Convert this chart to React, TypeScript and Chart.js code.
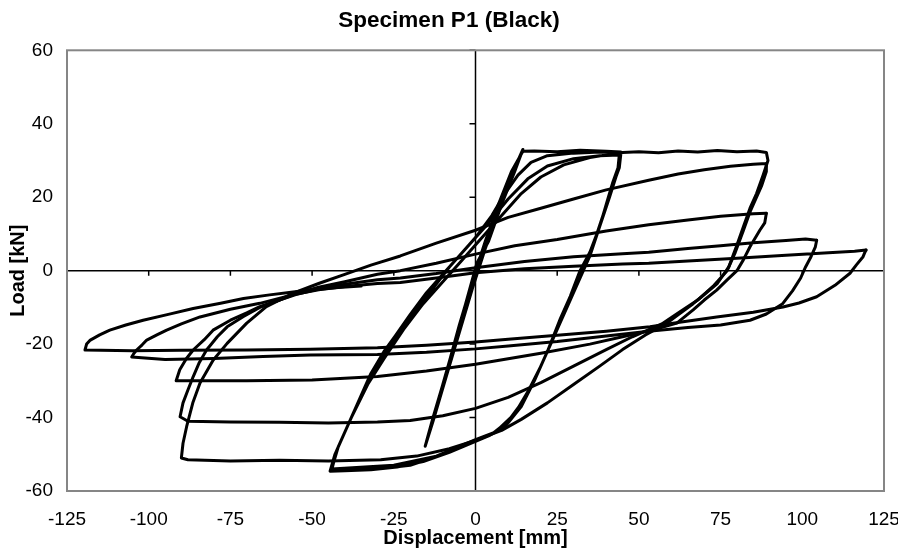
import React, { useEffect, useRef } from "react";
import { Chart, registerables } from "chart.js";

Chart.register(...registerables);

// ---- axis settings ----
const X_MIN = -125;
const X_MAX = 125;
const X_STEP = 25;
const Y_MIN = -60;
const Y_MAX = 60;
const Y_STEP = 20;

const TITLE = "Specimen P1 (Black)";
const X_TITLE = "Displacement [mm]";
const Y_TITLE = "Load [kN]";

// ---- hysteresis path, [displacement mm, load kN] ----
const elasticCycles: [number, number][] = [
  [0, 0], [4, 10], [8, 20], [12, 27], [14.5, 33],
  [12, 27], [8, 18], [4, 8], [0.4, 2], [-4.7, -14.4], [-10, -31], [-15.4, -47.8],
  [-13, -41], [-9, -29], [-5, -16], [-1, -4], [3, 7], [7, 17], [11, 26], [14.5, 33],
  [11, 25], [7, 16], [3, 6], [-1, -5], [-5, -17], [-10, -32], [-15, -46.5],
  [-13, -40], [-9, -28], [-5, -15], [-1, -3], [3, 8], [7, 18], [11, 27], [14.5, 32.5],
];

const cycles45: [number, number][] = [
  [14.5, 32.5], [18, 32.6], [25, 32.4], [32, 32.8], [40, 32.5], [44.5, 32.3],
  [44, 29], [42, 24], [40, 18], [38, 12], [35, 5], [32, 0], [29, -7], [26, -13],
  [22, -22], [18, -30], [14, -37], [9, -42.5], [4, -45], [0, -46.5], [-8, -49.5],
  [-16, -52], [-24, -53.5], [-32, -54.2], [-40, -54.5], [-44.5, -54.6],
  [-43, -50], [-40, -44], [-36, -36], [-32, -28], [-28, -22], [-24.6, -17.8],
  [-20, -12], [-15, -6], [-10, -1], [-5, 4], [0, 9], [5, 15], [9, 21], [13, 26],
  [17, 29.5], [22, 31.3], [30, 32], [38, 32.3], [44.5, 32],
  [44, 28], [41.5, 22], [39, 15], [36, 7], [33, 0], [30, -6], [27, -12], [23, -20],
  [19, -28], [15, -35], [10, -41], [5, -44.5], [0, -46], [-10, -50], [-20, -53],
  [-30, -54], [-44, -54.3],
  [-42.5, -49], [-39, -42], [-35, -34], [-30, -26], [-25, -19], [-20, -13],
  [-14, -6], [-8, 1], [-2, 7], [4, 13], [10, 19.5], [16, 25], [22, 28.5],
  [30, 30.5], [38, 31.3], [44, 31.5],
  [43.5, 27], [41, 20], [38, 12], [35, 4], [32, -2], [28, -10], [24, -18],
  [20, -26], [16, -33], [12, -39], [6, -44], [0, -46], [-12, -50.5], [-25, -53],
  [-44, -54],
  [-42, -48], [-38, -40], [-33, -31], [-28, -24], [-22, -16], [-16, -9],
  [-10, -3], [-4, 3], [2, 9], [8, 15], [14, 21], [20, 25.5], [27, 28.8],
  [35, 30.8], [42, 31.8], [45, 32.2],
];

const cycle90First: [number, number][] = [
  [45, 32.2], [50, 32.4], [56, 32.1], [62, 32.6], [68, 32.3], [74, 32.7],
  [80, 32.4], [86, 32.6], [89, 32.2],
  [89.5, 30], [88, 26], [86, 21], [84, 17], [82, 12], [80, 7], [77.5, 1],
  [74, -3.5], [70, -6.5], [66.6, -9], [62, -12], [58.6, -14.3], [52, -17.5],
  [45, -21.5], [38, -26], [30, -31], [22, -36], [14, -40.5], [8, -43.5],
  [0, -46.2], [-8, -48.5], [-18, -50.5], [-29, -51.5], [-45, -51.8],
  [-60, -51.6], [-75, -51.8], [-88, -51.5], [-90, -51],
  [-89.5, -47], [-88.4, -42.5], [-86.5, -36], [-84.3, -30.6], [-80.3, -24.4],
  [-76, -19.8], [-70, -14.3], [-64, -9.8], [-55.8, -6.1], [-48, -3.5],
  [-40, -1], [-32, 1.5], [-23, 4], [-12, 7.5], [0, 11], [10, 14.5], [20, 17],
  [30, 19.5], [40, 22], [53, 24.6], [62, 26.3], [70, 27.5], [78, 28.4],
  [85, 29], [89, 29.2],
];

const cycle90Second: [number, number][] = [
  [89, 29.2], [89, 27], [87.5, 23], [86, 20], [84, 16], [82, 11], [79.5, 5],
  [77, 0], [73, -4], [68, -8], [62, -11.5], [57, -14.5], [48, -18], [40, -21.5],
  [30, -26], [20, -30.5], [10, -34.5], [0, -37.5], [-10, -39.5], [-20, -40.8],
  [-30, -41.2], [-45, -41.5], [-60, -41.3], [-75, -41.2], [-88, -41],
  [-90.4, -39.8],
  [-89.5, -36], [-88, -32.5], [-86.4, -28.9], [-84.5, -25], [-82.3, -21.6],
  [-79, -18], [-76, -15.3], [-71, -12.5], [-66, -10], [-60, -8], [-55, -6.3],
  [-48, -4.5], [-40, -3], [-30, -1], [-23, 0], [-12, 2], [0, 4.5], [12, 6.8],
  [25, 8.5], [40, 10.8], [53, 12.5], [65, 13.8], [75, 14.8], [85, 15.5],
  [89, 15.6],
];

const cycle90Third: [number, number][] = [
  [89, 15.6], [88.5, 13], [87, 11], [84, 6.5], [82, 3], [80, 0], [77, -2.5],
  [73.8, -5.3], [70, -8], [66.6, -10.7], [61.6, -14.3], [55, -16], [45, -18],
  [35, -20], [20, -22.5], [0, -25.5], [-15, -27.3], [-30, -28.8], [-50, -29.8],
  [-70, -30], [-85, -30], [-91.6, -30],
  [-90.5, -27], [-88.5, -24], [-86.4, -21.6], [-83, -18.8], [-80.3, -16.2],
  [-75, -13.5], [-70, -11.5], [-66, -9.8], [-60, -8], [-55, -6.5], [-48, -5],
  [-40, -3.7], [-30, -2.5], [-23, -2], [-12, -0.8], [0, 0.8], [15, 2.5],
  [30, 3.8], [45, 4.6], [53, 5], [65, 6], [75, 6.8], [85, 7.6], [95, 8.2],
  [101, 8.6], [104.4, 8.3],
];

const cycle105: [number, number][] = [
  [104.4, 8.3], [104, 6.5], [102.5, 3.5], [101, 1], [99.5, -2], [97, -5.5],
  [94, -9], [89, -11.8], [84, -13.5], [75, -14.8], [65, -15.5], [53, -16.5],
  [40, -17.8], [25, -19.3], [10, -20.5], [0, -21.3], [-15, -22.2], [-30, -22.8],
  [-50.6, -23], [-65, -23.4], [-80, -23.9], [-95, -24.2], [-105.2, -23.5],
  [-104.5, -22.5], [-103.7, -21.6], [-102, -20.2], [-100.6, -18.9],
  [-97.5, -17.5], [-94.5, -16.2], [-90, -14.5], [-84.3, -12.6], [-75, -10.5],
  [-66, -8.9], [-56, -6.6], [-48, -5.2], [-40, -4.3], [-30, -3.5], [-23, -3.2],
  [-12, -2], [0, -0.6], [15, 0.5], [30, 1.2], [45, 1.8], [53, 2], [65, 2.6],
  [80, 3.4], [95, 4.2], [108, 4.9], [116, 5.3], [119.5, 5.6],
];

const cycle120: [number, number][] = [
  [119.5, 5.6], [119.2, 5.1], [118.6, 3.8], [116.5, 1.5], [114.6, -0.7],
  [110, -4], [104.4, -7.1], [99, -8.8], [94.1, -9.9], [85, -11.3],
  [73.8, -12.6], [63, -14], [53.4, -15.3], [40, -16.5], [25, -17.6],
  [10, -18.7], [0, -19.4], [-15, -20.3], [-30, -21], [-50.6, -21.4],
  [-70, -21.6], [-90, -21.7], [-105, -21.8], [-119.5, -21.6],
  [-119, -20], [-118, -19], [-115, -17.5], [-111.9, -16.2], [-107, -14.8],
  [-101.7, -13.5], [-94, -11.9], [-86.4, -10.3], [-78, -8.9], [-71, -7.6],
  [-63, -6.6], [-55.8, -5.8], [-50.6, -5.3], [-42, -4.6], [-35, -4.2],
];

const SEGMENTS = [
  elasticCycles,
  cycles45,
  cycle90First,
  cycle90Second,
  cycle90Third,
  cycle105,
  cycle120,
];

const FONT = "'Liberation Sans', Arial, Helvetica, sans-serif";

const framePlugin = {
  id: "frame",
  beforeDatasetsDraw(chart: any) {
    const { ctx, chartArea, scales } = chart;
    const { left, right, top, bottom } = chartArea;
    const xs = scales.x;
    const ys = scales.y;
    const x0 = xs.getPixelForValue(0);
    const y0 = ys.getPixelForValue(0);
    ctx.save();
    ctx.strokeStyle = "#000";
    ctx.lineWidth = 1.5;
    ctx.beginPath();
    ctx.moveTo(x0, top);
    ctx.lineTo(x0, bottom);
    ctx.moveTo(left, y0);
    ctx.lineTo(right, y0);
    xs.ticks.forEach((t: any) => {
      const px = xs.getPixelForValue(t.value);
      ctx.moveTo(px, y0);
      ctx.lineTo(px, y0 + 5);
    });
    ys.ticks.forEach((t: any) => {
      const py = ys.getPixelForValue(t.value);
      ctx.moveTo(x0 - 6, py);
      ctx.lineTo(x0, py);
    });
    ctx.stroke();
    ctx.restore();
  },
  afterDraw(chart: any) {
    const { ctx, chartArea } = chart;
    const { left, right, top, bottom } = chartArea;
    ctx.save();
    ctx.strokeStyle = "#868686";
    ctx.lineWidth = 2;
    ctx.strokeRect(left, top, right - left, bottom - top);
    ctx.restore();
  },
};

export default function App() {
  const canvasRef = useRef<HTMLCanvasElement | null>(null);

  useEffect(() => {
    document.body.style.margin = "0";
    const canvas = canvasRef.current;
    if (!canvas) return;

    const datasets = SEGMENTS.map((seg) => ({
      data: seg.map(([x, y]) => ({ x, y })),
      showLine: true,
      borderColor: "#000",
      backgroundColor: "#000",
      borderWidth: 3,
      borderJoinStyle: "round" as const,
      borderCapStyle: "round" as const,
      pointRadius: 0,
      tension: 0,
      xAxisID: "x",
      yAxisID: "y",
    }));

    const chart = new Chart(canvas, {
      type: "scatter",
      data: { datasets },
      plugins: [framePlugin],
      options: {
        animation: false,
        responsive: false,
        devicePixelRatio: 1,
        layout: { padding: 0 },
        plugins: {
          legend: { display: false },
          tooltip: { enabled: false },
          title: {
            display: true,
            text: TITLE,
            color: "#000",
            font: { family: FONT, size: 22.5, weight: "bold" },
            padding: { top: 7, bottom: 16.3 },
          },
        },
        scales: {
          x: {
            type: "linear",
            position: "bottom",
            min: X_MIN,
            max: X_MAX,
            grid: { display: false, drawTicks: false },
            border: { display: false },
            ticks: {
              stepSize: X_STEP,
              color: "#000",
              font: { family: FONT, size: 19 },
              padding: 17,
              maxRotation: 0,
              autoSkip: false,
            },
            title: {
              display: true,
              text: X_TITLE,
              color: "#000",
              font: { family: FONT, size: 20, weight: "bold" },
              padding: { top: 0, bottom: 4 },
            },
            afterFit(scale: any) {
              scale.height = 63;
              scale.paddingLeft = 0;
              scale.paddingRight = 0;
            },
          },
          y: {
            type: "linear",
            position: "left",
            min: Y_MIN,
            max: Y_MAX,
            grid: { display: false, drawTicks: false },
            border: { display: false },
            ticks: {
              stepSize: Y_STEP,
              color: "#000",
              font: { family: FONT, size: 19 },
              padding: 14,
              autoSkip: false,
            },
            title: {
              display: true,
              text: Y_TITLE,
              color: "#000",
              font: { family: FONT, size: 20, weight: "bold" },
              padding: { top: 6, bottom: 0 },
            },
            afterFit(scale: any) {
              scale.width = 67;
              scale.paddingTop = 0;
              scale.paddingBottom = 0;
            },
          },
          y2: {
            type: "linear",
            position: "right",
            display: true,
            grid: { display: false, drawTicks: false },
            border: { display: false },
            ticks: { display: false },
            afterFit(scale: any) {
              scale.width = 14;
              scale.paddingTop = 0;
              scale.paddingBottom = 0;
            },
          },
        },
      } as any,
    });

    return () => chart.destroy();
  }, []);

  return (
    <div style={{ width: 898, height: 554 }}>
      <canvas ref={canvasRef} width={898} height={554} style={{ display: "block" }} />
    </div>
  );
}
